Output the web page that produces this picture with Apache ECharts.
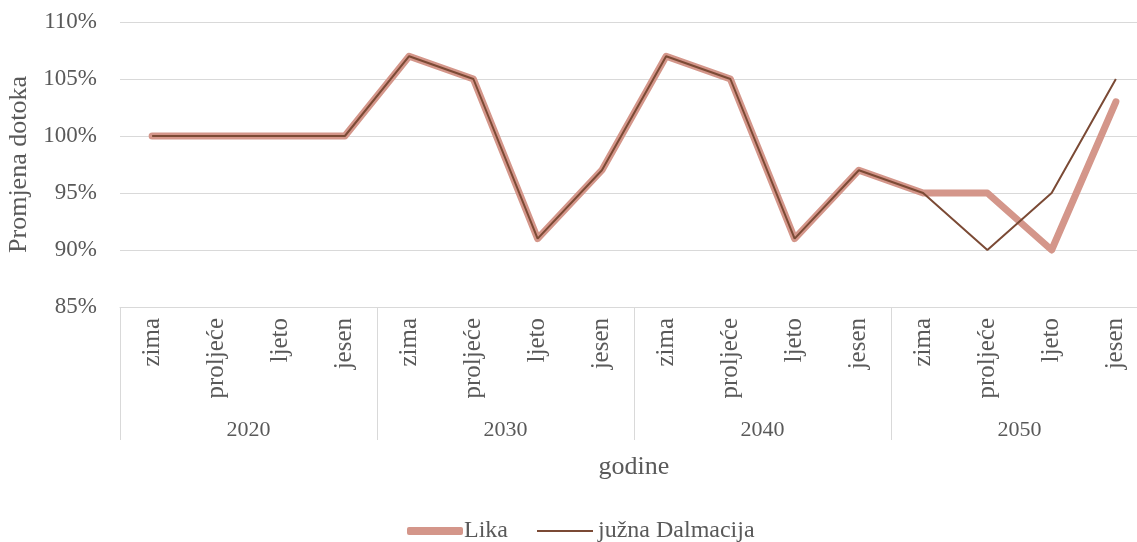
<!DOCTYPE html>
<html><head><meta charset="utf-8">
<script src="https://cdn.jsdelivr.net/npm/echarts@6/dist/echarts.min.js"></script>
<style>html,body{margin:0;padding:0;background:#fff}#c{width:1137px;height:542px}</style>
</head><body><div id="c"></div>
<script>
const seasons = ['zima','proljeće','ljeto','jesen','zima','proljeće','ljeto','jesen','zima','proljeće','ljeto','jesen','zima','proljeće','ljeto','jesen'];
const years = ['2020','2030','2040','2050'];
const lika = [100,100,100,100,107,105,91,97,107,105,91,97,95,95,90,103];
const juznaDalmacija = [100,100,100,100,107,105,91,97,107,105,91,97,95,90,95,105];
const yTicks = {min:85, max:110, interval:5};

const FONT = '"Liberation Serif","Times New Roman",serif';
const TXT = '#595959';
const C_LIKA = '#D4968A', C_DAL = '#7B4A35';
const chart = echarts.init(document.getElementById('c'));
chart.setOption({
  animation:false,
  textStyle:{fontFamily:FONT},
  grid:{left:120,width:1028,top:22,height:285,containLabel:false,outerBoundsMode:'none'},
  legend:[{
    top:514,left:402,itemWidth:56,itemHeight:8,
    icon:'roundRect',
    textStyle:{fontFamily:FONT,fontSize:24,color:TXT,padding:[0,0,0,-4]},
    data:[{name:'Lika',icon:'roundRect',itemStyle:{color:C_LIKA}}]
  },{
    top:514,left:532,itemWidth:56,itemHeight:2,
    icon:'rect',
    textStyle:{fontFamily:FONT,fontSize:24,color:TXT},
    data:[{name:'južna Dalmacija',icon:'rect',itemStyle:{color:C_DAL}}]
  }],
  xAxis:[{
    type:'category',data:seasons,boundaryGap:true,
    axisLine:{show:true,lineStyle:{color:'#d9d9d9',width:1}},
    axisTick:{show:true,length:133,interval:function(i){return i%4===0;},lineStyle:{color:'#d9d9d9'}},
    axisLabel:{rotate:90,margin:11,fontSize:25,color:TXT,fontFamily:FONT,interval:0}
  },{
    type:'category',data:years,position:'bottom',boundaryGap:true,
    axisLine:{show:false},axisTick:{show:false},
    axisLabel:{margin:112,fontSize:22,color:TXT,fontFamily:FONT},
    name:'godine',nameLocation:'middle',nameGap:147,
    nameTextStyle:{fontSize:26,color:TXT,fontFamily:FONT}
  }],
  yAxis:{
    type:'value',min:yTicks.min,max:yTicks.max,interval:yTicks.interval,
    axisLine:{show:false},axisTick:{show:false},
    splitLine:{lineStyle:{color:'#d9d9d9',width:1}},
    axisLabel:{formatter:'{value}%',margin:23,fontSize:23,color:TXT,fontFamily:FONT},
    name:'Promjena dotoka',nameLocation:'middle',nameGap:84,nameRotate:90,
    nameTextStyle:{fontSize:26,color:TXT,fontFamily:FONT}
  },
  series:[{
    name:'Lika',type:'line',data:lika,xAxisIndex:0,symbol:'none',
    lineStyle:{color:C_LIKA,width:7,cap:'round',join:'round'},itemStyle:{color:C_LIKA}
  },{
    name:'južna Dalmacija',type:'line',data:juznaDalmacija,xAxisIndex:0,symbol:'none',
    lineStyle:{color:C_DAL,width:2},itemStyle:{color:C_DAL}
  }]
});
</script></body></html>
